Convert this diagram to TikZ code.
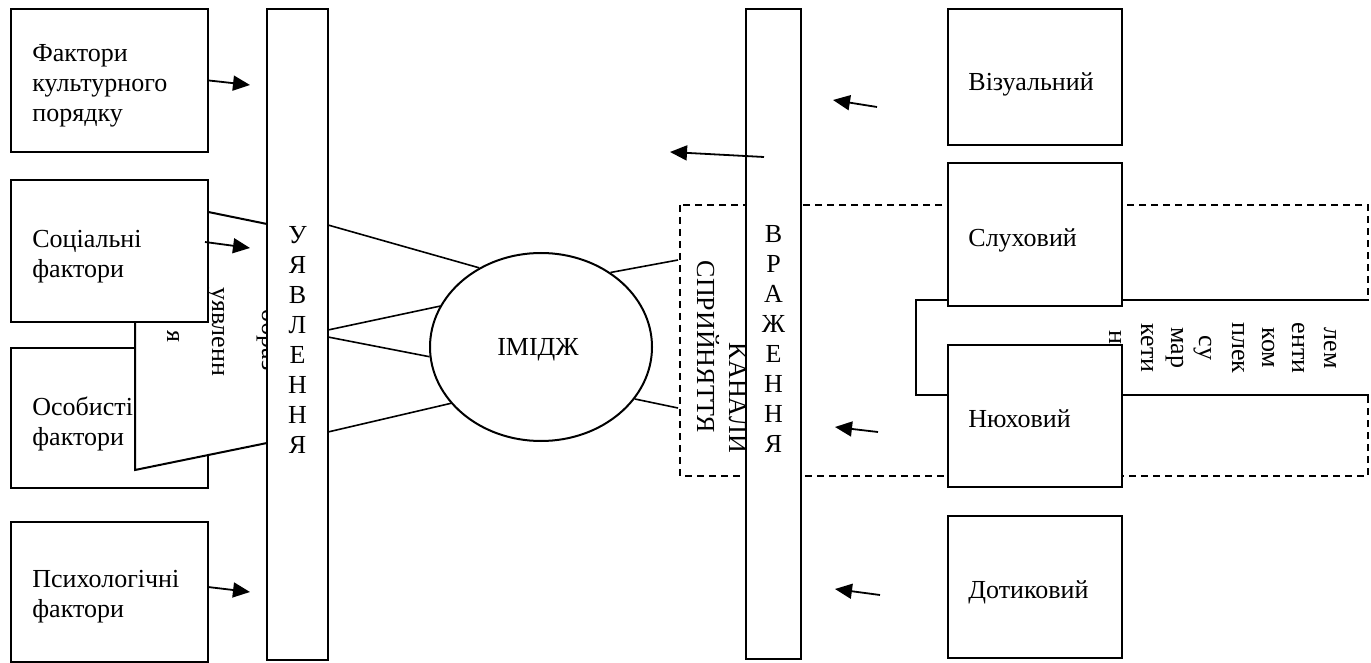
\documentclass[tikz,border=0pt]{standalone}
\usepackage{fontspec}
\setmainfont{Liberation Serif}
\usetikzlibrary{shapes.geometric,arrows.meta}
\begin{document}
\begin{tikzpicture}[x=0.5pt,y=-0.5pt,
  every node/.style={font=\fontsize{13}{15}\selectfont, inner sep=0pt},
  ln/.style={line width=0.8pt},
  lbox/.style={draw, line width=1pt, fill=white, minimum width=98.5pt},
  rbox/.style={draw, line width=1pt, fill=white, minimum width=87pt},
  txt/.style={anchor=west, align=left},
  stack/.style={align=center},
  bar/.style={draw, line width=1pt, fill=white},
  arr/.style={line width=0.9pt, -{Triangle[length=8.5pt,width=7.5pt]}},
  dsh/.style={line width=0.9pt, dash pattern=on 3.5pt off 2.5pt},
  rot/.style={rotate=-90, anchor=base}]
\useasboundingbox (0,0) rectangle (1371,663);
\fill[white] (0,0) rectangle (1371,663);

% ---- right side: dashed frame and complex band
\draw[dsh] (680,205) rectangle (1368,476);
\fill[white] (916,300) rectangle (1371,395);
\draw[ln, line width=1pt] (1369,300) -- (916,300) -- (916,395) -- (1369,395);
\node[rot] (c1) at (1324,348) {лем};
\node[rot] (c2) at (1292,348) {енти};
\node[rot] (c3) at (1262,348) {ком};
\node[rot] (c4) at (1232,348) {плек};
\node[rot] (c5) at (1199,348) {су};
\node[rot] (c6) at (1171,348) {мар};
\node[rot] (c7) at (1141,348) {кети};
\node[rot] (c8) at (1109,337) {н};

\node[rot] (kan1) at (729,398) {КАНАЛИ};
\node[rot] (kan2) at (697,347) {СПРИЙНЯТТЯ};

\node[bar, minimum width=27.5pt, minimum height=325pt] (bar2) at (773.5,334) {};
\node[stack] (bar2t) at (773.5,339) {В\\Р\\А\\Ж\\Е\\Н\\Н\\Я};

\node[rbox, minimum height=68pt] (vis) at (1035,77) {};
\node[txt] (vist) at (968,84) {Візуальний};
\node[rbox, minimum height=71.5pt] (sluh) at (1035,234.5) {};
\node[txt] (sluht) at (968,240) {Слуховий};
\node[rbox, minimum height=71pt] (nuh) at (1035,416) {};
\node[txt] (nuht) at (968,419) {Нюховий};
\node[rbox, minimum height=71pt] (dot) at (1035,587) {};
\node[txt] (dott) at (968,592) {Дотиковий};

% ---- left side
\node[lbox, minimum height=70pt] (b3) at (109.5,418) {};
\node[txt] (b3t) at (32,424) {Особисті\\фактори};
\filldraw[line width=1pt, fill=white] (135,197) -- (267,224) -- (267,443) -- (135,470) -- cycle;
\node[rot] (uv1) at (212,332) {уявленн};
\node[rot] (uv2) at (167,336) {я};
\node[rot] (obr) at (262,340) {образ};
\node[lbox, minimum height=71pt] (b2) at (109.5,251) {};
\node[txt] (b2t) at (32,257) {Соціальні\\фактори};
\node[lbox, minimum height=71.5pt] (b1) at (109.5,80.5) {};
\node[txt] (b1t) at (32,86) {Фактори\\культурного\\порядку};
\node[lbox, minimum height=70pt] (b4) at (109.5,592) {};
\node[txt] (b4t) at (32,597) {Психологічні\\фактори};

\node[bar, minimum width=30.5pt, minimum height=325.5pt] (bar1) at (297.5,334.5) {};
\node[stack] (bar1t) at (297.5,340) {У\\Я\\В\\Л\\Е\\Н\\Н\\Я};

% ---- image ellipse and links
\node[ellipse, draw, line width=1pt, minimum width=111pt, minimum height=94pt] (img) at (541,347) {};
\node (imgt) at (538,350) {ІМІДЖ};

\coordinate (l1) at (328,225);
\coordinate (l2) at (328,330);
\coordinate (l3) at (328,337);
\coordinate (l4) at (328,432);
\coordinate (r1) at (678,260);
\coordinate (r2) at (678,408);
\draw[ln] (l1) -- (img.128.9);
\draw[ln] (l2) -- (img.158.6);
\draw[ln] (l3) -- (img.185.6);
\draw[ln] (l4) -- (img.212.2);
\draw[ln] (img.47) -- (r1);
\draw[ln] (img.331.5) -- (r2);

% ---- arrows
\coordinate (a1e) at (250,85);
\coordinate (a2s) at (205,242);
\coordinate (a2e) at (250,248);
\coordinate (a3s) at (208,587);
\coordinate (a3e) at (250,592);
\coordinate (a4s) at (877,107);
\coordinate (a4e) at (833,100);
\coordinate (a5s) at (764,157);
\coordinate (a5e) at (670,152);
\coordinate (a6s) at (878,432);
\coordinate (a6e) at (835,427);
\coordinate (a7s) at (880,595);
\coordinate (a7e) at (835,589);
\draw[arr] (b1.east) -- (a1e);
\draw[arr] (a2s) -- (a2e);
\draw[arr] (a3s) -- (a3e);
\draw[arr] (a4s) -- (a4e);
\draw[arr] (a5s) -- (a5e);
\draw[arr] (a6s) -- (a6e);
\draw[arr] (a7s) -- (a7e);
\end{tikzpicture}
\end{document}
